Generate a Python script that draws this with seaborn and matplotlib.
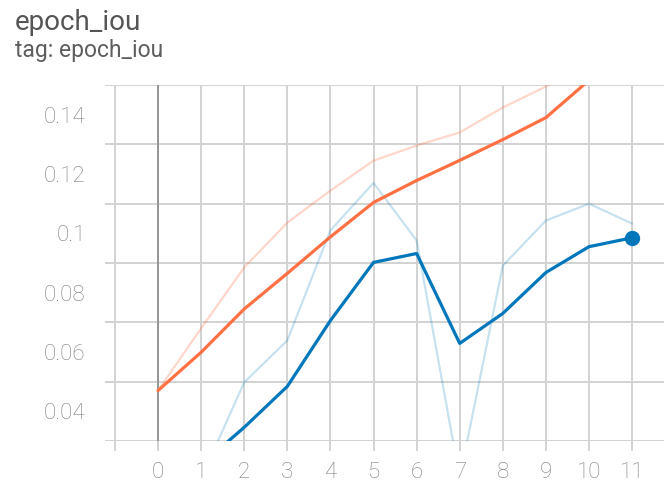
import matplotlib
matplotlib.use("Agg")
import matplotlib.pyplot as plt
import seaborn as sns
import numpy as np
import pandas as pd

# Werte
epochs = list(range(12))
orange_raw = [0.047, 0.068, 0.0885, 0.1036, 0.1144, 0.1245, 0.1296, 0.134, 0.1424, 0.1495, 0.158, 0.165]
orange_smooth = [0.047, 0.0599, 0.0745, 0.0865, 0.0988, 0.1104, 0.1178, 0.1246, 0.1316, 0.139, 0.1516, 0.159]
blue_raw = [0.024, 0.0173, 0.0498, 0.0639, 0.101, 0.117, 0.0976, 0.0175, 0.0891, 0.1043, 0.110, 0.1033]
blue_smooth = [0.024, 0.022, 0.0346, 0.0484, 0.0706, 0.0902, 0.0932, 0.0629, 0.073, 0.0868, 0.0955, 0.0985]

x_ticks = list(range(-1, 12))
x_labels = [""] + [str(e) for e in epochs]
y_major = [0.04, 0.06, 0.08, 0.1, 0.12, 0.14]
y_labels = ["0.04", "0.06", "0.08", "0.1", "0.12", "0.14"]

df = pd.DataFrame({"epoch": epochs, "orange_raw": orange_raw, "orange_smooth": orange_smooth,
                   "blue_raw": blue_raw, "blue_smooth": blue_smooth})

sns.set_theme(style="white")
plt.rcParams['font.family'] = ['Roboto', 'DejaVu Sans']

ORANGE = "#ff7043"
BLUE = "#0077bb"
GRID = "#d2d2d2"
TXT = "#7e7e7e"

fig = plt.figure(figsize=(6.64, 4.84), dpi=100)
ax = fig.add_axes([105 / 664, 1 - 441 / 484, 1 - 105 / 664, (441 - 85) / 484])

# Gitter
ax.set_yticks(np.arange(0.03, 0.151, 0.01), minor=True)
ax.grid(which="minor", axis="y", color=GRID, lw=1.4)
ax.grid(which="major", axis="x", color=GRID, lw=1.4)
ax.axvline(0, color="#8a8a8a", lw=1.2, zorder=1)

sns.lineplot(data=df, x="epoch", y="orange_raw", color=ORANGE, alpha=0.28, lw=1.6, ax=ax)
sns.lineplot(data=df, x="epoch", y="blue_raw", color=BLUE, alpha=0.22, lw=1.6, ax=ax)
sns.lineplot(data=df, x="epoch", y="orange_smooth", color=ORANGE, lw=2.3, ax=ax)
sns.lineplot(data=df, x="epoch", y="blue_smooth", color=BLUE, lw=2.3, ax=ax)
ax.scatter([epochs[-1]], [blue_smooth[-1]], s=100, color=BLUE, zorder=5, clip_on=False)

ax.set_xlim(-1.23, 11.74)
ax.set_ylim(0.03, 0.15)
ax.set_xticks(x_ticks)
ax.set_xticklabels(x_labels, fontweight="light")
ax.set_yticks(y_major)
ax.set_yticklabels(y_labels, fontweight="light")
ax.set_xlabel("")
ax.set_ylabel("")
for s in ax.spines.values():
    s.set_visible(False)
ax.tick_params(axis="x", which="major", bottom=True, length=7, width=1.4, color=GRID,
               labelsize=16, labelcolor=TXT, pad=8)
ax.tick_params(axis="y", which="both", left=False, labelsize=16, labelcolor=TXT, pad=8)

fig.text(15 / 664, 1 - 30 / 484, "epoch_iou", fontsize=20, color="#555555", va="baseline")
fig.text(15 / 664, 1 - 57 / 484, "tag: epoch_iou", fontsize=16.5, color="#5e5e5e", va="baseline")

fig.savefig("out.png", dpi=100)
